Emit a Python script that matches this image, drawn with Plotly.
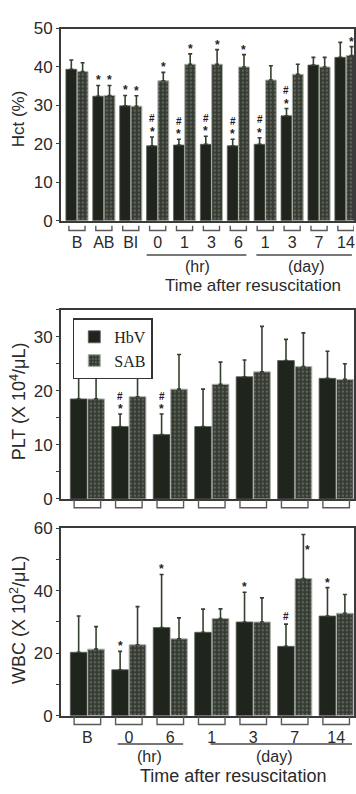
import plotly.graph_objects as go

# ---------------- data ----------------
hct_cats = ["B", "AB", "BI", "0", "1", "3", "6", "1", "3", "7", "14"]
hct_hbv = [39.4, 32.4, 29.9, 19.5, 19.7, 19.9, 19.5, 19.9, 27.3, 40.5, 42.5]
hct_hbv_err = [2.4, 2.8, 2.7, 2.3, 1.5, 2.1, 1.7, 1.7, 1.9, 2.0, 3.9]
hct_sab = [38.8, 32.6, 29.8, 36.4, 40.7, 40.7, 40.0, 36.6, 38.1, 40.0, 43.0]
hct_sab_err = [2.3, 2.6, 2.7, 2.2, 2.7, 3.8, 3.2, 3.7, 2.6, 2.5, 2.3]
hct_hbv_sig = ["", "*", "*", "#*", "#*", "#*", "#*", "#*", "#*", "", ""]
hct_sab_sig = ["", "*", "*", "*", "*", "*", "*", "", "", "", "*"]

plt_cats = ["B", "0", "6", "1", "3", "7", "14"]
plt_hbv = [18.5, 13.4, 11.9, 13.4, 22.6, 25.6, 22.3]
plt_hbv_err = [4.7, 2.3, 3.8, 6.9, 3.1, 3.9, 5.0]
plt_sab = [18.5, 18.9, 20.3, 21.2, 23.5, 24.5, 22.1]
plt_sab_err = [4.8, 3.7, 6.4, 4.1, 8.4, 6.2, 2.9]
plt_hbv_sig = ["", "#*", "#*", "", "", "", ""]
plt_sab_sig = ["", "", "", "", "", "", ""]

wbc_cats = ["B", "0", "6", "1", "3", "7", "14"]
wbc_hbv = [20.3, 14.7, 28.2, 26.7, 30.0, 22.2, 31.9]
wbc_hbv_err = [11.6, 5.9, 17.0, 7.4, 9.5, 7.1, 9.1]
wbc_sab = [21.3, 22.7, 24.6, 31.1, 30.0, 43.9, 32.8]
wbc_sab_err = [7.2, 12.2, 6.7, 3.1, 7.7, 14.1, 6.0]
wbc_hbv_sig = ["", "*", "*", "", "*", "#", "*"]
wbc_sab_sig = ["", "", "", "", "", "*", ""]

hct_hr_idx, hct_day_idx = [3, 4, 5, 6], [7, 8, 9, 10]
wbc_hr_idx, wbc_day_idx = [1, 2], [3, 4, 5, 6]

series_names = ["HbV", "SAB"]

# ---------------- style ----------------
W, H = 356, 794
def py(px):
    return 1 - px / H

HBV_COL = "#1f251c"
SAB_COL = "#343a31"
ERR_COL = "#34402f"
AX_COL = "#3a3a3a"
TXT = "#2a2a2a"
SANS = "Liberation Sans, Arial, sans-serif"
SERIF = "Liberation Serif, Times New Roman, serif"
BARGAP = 0.16
OFF = (1 - BARGAP) / 4

panels = [
    dict(key="hct", cats=hct_cats, hbv=hct_hbv, he=hct_hbv_err, sab=hct_sab, se=hct_sab_err,
         hs=hct_hbv_sig, ss=hct_sab_sig, yr=[0, 50], dtick=10, minor=None,
         top=20, bot=217, xr=[-0.6, 10.3], title="Hct (%)", tsize=17, tcy=112,
         ticklabels=True, brk=(222, 227), bw=0.3),
    dict(key="plt", cats=plt_cats, hbv=plt_hbv, he=plt_hbv_err, sab=plt_sab, se=plt_sab_err,
         hs=plt_hbv_sig, ss=plt_sab_sig, yr=[0, 35], dtick=10, minor=5,
         top=308, bot=502, xr=[-0.64, 6.43], title="PLT (X 10<sup>4</sup>/μL)", tsize=18, tcy=402,
         ticklabels=False, brk=(503, 511), bw=0.32),
    dict(key="wbc", cats=wbc_cats, hbv=wbc_hbv, he=wbc_hbv_err, sab=wbc_sab, se=wbc_sab_err,
         hs=wbc_hbv_sig, ss=wbc_sab_sig, yr=[0, 60], dtick=20, minor=10,
         top=532, bot=724, xr=[-0.64, 6.43], title="WBC (X 10<sup>2</sup>/μL)", tsize=18, tcy=626,
         ticklabels=True, brk=(725, 733), bw=0.32),
]

fig = go.Figure()
shapes, annos = [], []

for k, p in enumerate(panels):
    sfx = "" if k == 0 else str(k + 1)
    xa, ya = "x" + sfx, "y" + sfx
    xs = list(range(len(p["cats"])))
    fig.add_trace(go.Bar(
        x=xs, y=p["hbv"], name=series_names[0], xaxis=xa, yaxis=ya,
        marker=dict(color=HBV_COL, line=dict(color="#5c6259", width=0.8)),
        error_y=dict(type="data", array=p["he"], arrayminus=[0] * len(xs), symmetric=False,
                     color=ERR_COL, thickness=1.6, width=2),
        legendgroup="hbv", showlegend=(k == 1), offsetgroup="hbv"))
    fig.add_trace(go.Bar(
        x=xs, y=p["sab"], name=series_names[1], xaxis=xa, yaxis=ya,
        marker=dict(color=SAB_COL, line=dict(color="#aeb3aa", width=1),
                    pattern=dict(shape=".", fgcolor="#8c9288", bgcolor=SAB_COL, size=4, solidity=0.3)),
        error_y=dict(type="data", array=p["se"], arrayminus=[0] * len(xs), symmetric=False,
                     color=ERR_COL, thickness=1.6, width=2),
        legendgroup="sab", showlegend=(k == 1), offsetgroup="sab"))

    xkey = "xaxis" + sfx
    ykey = "yaxis" + sfx
    fig.update_layout(**{
        xkey: dict(domain=[61 / W, 355 / W], anchor=ya, range=p["xr"], showgrid=False, zeroline=False,
                   showline=True, linecolor=AX_COL, linewidth=1.5, mirror=True,
                   tickvals=xs, ticktext=p["cats"], showticklabels=p["ticklabels"],
                   ticks="outside", ticklen=6, tickcolor="rgba(0,0,0,0)",
                   tickfont=dict(family=SANS, size=16, color=TXT)),
        ykey: dict(domain=[py(p["bot"]), py(p["top"])], anchor=xa, range=p["yr"], dtick=p["dtick"],
                   showgrid=False, zeroline=False, showline=True, linecolor=AX_COL, linewidth=1.5,
                   mirror=True, ticks="outside", ticklen=3, tickcolor=AX_COL,
                   tickfont=dict(family=SANS, size=17, color=TXT),
                   minor=(dict(dtick=p["minor"], ticks="outside", ticklen=3, tickcolor=AX_COL)
                          if p["minor"] else None)),
    })

    # y title
    annos.append(dict(text=p["title"], xref="paper", yref="paper", x=18 / W, y=py(p["tcy"]),
                      textangle=-90, showarrow=False, xanchor="center", yanchor="middle",
                      font=dict(family=SANS, size=p["tsize"], color=TXT)))

    # brackets under each group
    y0, y1 = py(p["brk"][0]), py(p["brk"][1])
    for i in xs:
        a, b = i - p["bw"], i + p["bw"]
        shapes.append(dict(type="path", xref=xa, yref="paper",
                           path=f"M {a},{y0} L {a},{y1} L {b},{y1} L {b},{y0}",
                           line=dict(color="#5a5a5a", width=1.4)))

    # significance marks
    for i in xs:
        for sig, vals, errs, dx in ((p["hs"][i], p["hbv"], p["he"], -OFF), (p["ss"][i], p["sab"], p["se"], OFF)):
            if not sig:
                continue
            top = vals[i] + errs[i]
            xshift, yextra = 0, 0
            if top > p["yr"][1] * 0.93:
                xshift, yextra = 4, -20
            chars = list(reversed(sig))
            for j, ch in enumerate(chars):
                ys = (5 if ch == "*" else 8) + 10 * j + yextra
                annos.append(dict(text="<b>" + ch + "</b>", xref=xa, yref=ya, x=i + dx, y=top,
                                  showarrow=False, xanchor="center", yanchor="middle",
                                  yshift=ys, xshift=xshift,
                                  font=dict(family=SANS, size=12 if ch == "*" else 10, color="#1e1e1e")))

# group underlines and labels (top and bottom panels)
def group_line(xa, idx, pads, ypx, label, label_y):
    a, b = idx[0] - pads[0], idx[-1] + pads[1]
    shapes.append(dict(type="line", xref=xa, yref="paper", x0=a, x1=b, y0=py(ypx), y1=py(ypx),
                       line=dict(color="#4a4a4a", width=1.5)))
    annos.append(dict(text=label, xref=xa, yref="paper", x=(idx[0] + idx[-1]) / 2, y=py(label_y),
                      showarrow=False, xanchor="center", yanchor="middle",
                      font=dict(family=SANS, size=16, color=TXT)))

group_line("x", hct_hr_idx, (0.41, 0.3), 252, "(hr)", 264)
group_line("x", hct_day_idx, (0.33, 0.22), 252, "(day)", 264)
group_line("x3", wbc_hr_idx, (0.27, 0.31), 753, "(hr)", 766)
group_line("x3", wbc_day_idx, (0.03, 0.38), 753, "(day)", 766)

annos.append(dict(text="Time after resuscitation", xref="paper", yref="paper", x=254 / W, y=py(283),
                  showarrow=False, xanchor="center", yanchor="middle",
                  font=dict(family=SANS, size=17, color=TXT)))
annos.append(dict(text="Time after resuscitation", xref="paper", yref="paper", x=234 / W, y=py(786),
                  showarrow=False, xanchor="center", yanchor="middle",
                  font=dict(family=SANS, size=18, color=TXT)))

fig.update_layout(
    width=W, height=H, margin=dict(l=0, r=0, t=0, b=0),
    paper_bgcolor="white", plot_bgcolor="white",
    barmode="group", bargap=BARGAP, bargroupgap=0.04,
    shapes=shapes, annotations=annos,
    legend=dict(x=73 / W, y=py(317), xanchor="left", yanchor="top",
                bgcolor="white", bordercolor="#333", borderwidth=1.5,
                font=dict(family=SERIF, size=16, color="#222"),
                tracegroupgap=0, itemwidth=30),
)

fig.write_html("out.html")
